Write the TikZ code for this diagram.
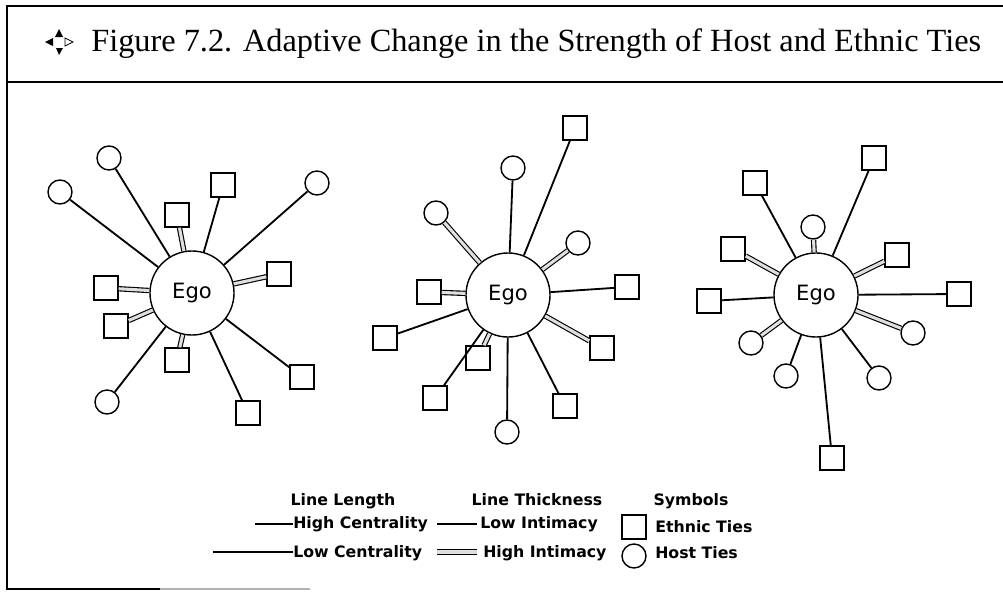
\documentclass[tikz,border=0pt]{standalone}
\usepackage{fontspec}
\setmainfont{Liberation Serif}
\setsansfont{DejaVu Sans}
\usetikzlibrary{shapes,arrows}
\tikzstyle{ego} = [circle, draw, line width=1pt, minimum size=2.1cm, inner sep=0pt,
    font=\sffamily\fontsize{15}{15}\selectfont]
\tikzstyle{ethnic} = [rectangle, draw, line width=1pt, minimum size=0.6cm, inner sep=0pt]
\tikzstyle{host} = [circle, draw, line width=1pt, minimum size=0.6cm, inner sep=0pt]
\tikzstyle{low} = [draw, line width=1.3pt]
\tikzstyle{high} = [draw, line width=0.8pt, double=gray!25, double distance=2.2pt]
\tikzstyle{legend} = [font=\sffamily\bfseries\fontsize{11.2}{12}\selectfont, inner sep=0pt]

\begin{document}
\begin{tikzpicture}[x=0.025cm, y=-0.025cm]

    \useasboundingbox (0,0) rectangle (1003,592);

    % Frame and title
    \draw [line width=1.4pt] (1003,6) -- (7,6) -- (7,589) -- (160,589);
    \draw [line width=1pt, gray!60] (160,589) -- (310,589);
    \draw [line width=1.2pt] (7,82) -- (1003,82);
    \fill (59,29) -- (55,37) -- (63,37) -- cycle;
    \fill (45,42) -- (53,38) -- (53,46) -- cycle;
    \draw [line width=0.6pt] (73,42) -- (65,38) -- (65,46) -- cycle;
    \fill (56,48) -- (63,48) -- (59,55) -- cycle;
    \node [anchor=base west, inner sep=0pt, font=\fontsize{23}{24}\selectfont]
        (title) at (91,51) {Figure 7.2. Adaptive Change in the Strength of Host and Ethnic Ties};

    % Place nodes: first network
    \node [ego] (A) at (192,293) {Ego};
    \node [host] (A1) at (109,158) {};
    \node [host] (A2) at (60,192) {};
    \node [ethnic] (A3) at (177,215) {};
    \node [ethnic] (A4) at (223,185) {};
    \node [host] (A5) at (317,183) {};
    \node [ethnic] (A6) at (279,274) {};
    \node [ethnic] (A7) at (106,288) {};
    \node [ethnic] (A8) at (116,326) {};
    \node [ethnic] (A9) at (177,360) {};
    \node [host] (A10) at (107,402) {};
    \node [ethnic] (A11) at (248,413) {};
    \node [ethnic] (A12) at (302,377) {};

    % Place nodes: second network
    \node [ego] (B) at (508,295) {Ego};
    \node [ethnic] (B1) at (575,128) {};
    \node [host] (B2) at (513,168) {};
    \node [host] (B3) at (436,213) {};
    \node [host] (B4) at (578,243) {};
    \node [ethnic] (B5) at (627,287) {};
    \node [ethnic] (B6) at (429,292) {};
    \node [ethnic] (B7) at (385,338) {};
    \node [ethnic] (B8) at (478,358) {};
    \node [ethnic] (B9) at (602,348) {};
    \node [ethnic] (B10) at (435,398) {};
    \node [ethnic] (B11) at (565,406) {};
    \node [host] (B12) at (507,432) {};

    % Place nodes: third network
    \node [ego] (C) at (816,295) {Ego};
    \node [ethnic] (C1) at (874,158) {};
    \node [ethnic] (C2) at (755,183) {};
    \node [host] (C3) at (813,227) {};
    \node [ethnic] (C4) at (733,249) {};
    \node [ethnic] (C5) at (897,255) {};
    \node [ethnic] (C6) at (959,294) {};
    \node [ethnic] (C7) at (709,301) {};
    \node [host] (C8) at (751,343) {};
    \node [host] (C9) at (913,333) {};
    \node [host] (C10) at (786,376) {};
    \node [host] (C11) at (879,378) {};
    \node [ethnic] (C12) at (832,458) {};

    % Draw edges
    \path [low] (A) -- (A1);
    \path [low] (A) -- (A2);
    \path [high] (A) -- (A3);
    \path [low] (A) -- (A4);
    \path [low] (A) -- (A5);
    \path [high] (A) -- (A6);
    \path [high] (A) -- (A7);
    \path [high] (A) -- (A8);
    \path [high] (A) -- (A9);
    \path [low] (A) -- (A10);
    \path [low] (A) -- (A11);
    \path [low] (A) -- (A12);

    \path [low] (B) -- (B1);
    \path [low] (B) -- (B2);
    \path [high] (B) -- (B3);
    \path [high] (B) -- (B4);
    \path [low] (B) -- (B5);
    \path [high] (B) -- (B6);
    \path [low] (B) -- (B7);
    \path [high] (B) -- (B8);
    \path [high] (B) -- (B9);
    \path [low] (B) -- (B10);
    \path [low] (B) -- (B11);
    \path [low] (B) -- (B12);

    \path [low] (C) -- (C1);
    \path [low] (C) -- (C2);
    \path [high] (C) -- (C3);
    \path [high] (C) -- (C4);
    \path [high] (C) -- (C5);
    \path [low] (C) -- (C6);
    \path [low] (C) -- (C7);
    \path [high] (C) -- (C8);
    \path [high] (C) -- (C9);
    \path [low] (C) -- (C10);
    \path [low] (C) -- (C11);
    \path [low] (C) -- (C12);

    % Legend
    \node [legend, anchor=base] (len) at (343,505) {Line Length};
    \node [legend, anchor=base] (thick) at (537,505) {Line Thickness};
    \node [legend, anchor=base] (sym) at (691,505) {Symbols};
    \node [legend, anchor=base west] (hc) at (293,528) {High Centrality};
    \node [legend, anchor=base west] (lc) at (293,557) {Low Centrality};
    \node [legend, anchor=base west] (li) at (480,528) {Low Intimacy};
    \node [legend, anchor=base west] (hi) at (483,557) {High Intimacy};
    \node [ethnic] (es) at (634,527) {};
    \node [host] (hs) at (634,556) {};
    \node [legend, anchor=base west] (et) at (655,532) {Ethnic Ties};
    \node [legend, anchor=base west] (ht) at (655,558) {Host Ties};
    \coordinate (hcs) at (255,524);
    \coordinate (lcs) at (213,552);
    \coordinate (lis) at (437,524);
    \coordinate (his) at (437,552);
    \path [low, line width=1pt] (hcs) -- (hcs -| hc.west);
    \path [low, line width=1pt] (lcs) -- (lcs -| lc.west);
    \path [low, line width=1pt] (lis) -- ([xshift=-2pt]lis -| li.west);
    \path [high] (his) -- ([xshift=-4pt]his -| hi.west);

\end{tikzpicture}
\end{document}
